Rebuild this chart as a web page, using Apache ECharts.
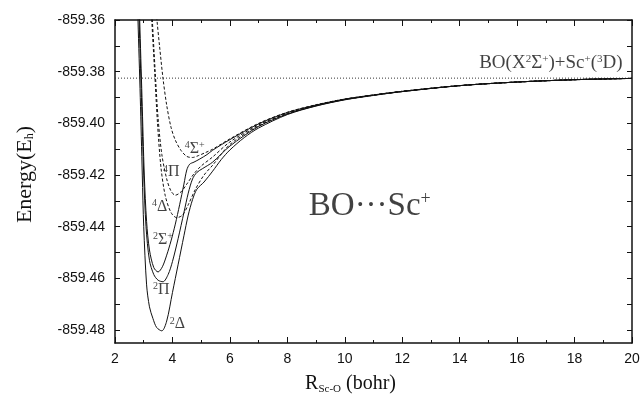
<!DOCTYPE html>
<html>
<head>
<meta charset="utf-8">
<script src="https://cdn.jsdelivr.net/npm/echarts@6/dist/echarts.min.js"></script>
<style>
html,body{margin:0;padding:0;background:#fff}
#main{width:643px;height:400px}
</style>
</head>
<body>
<div id="main"></div>
<script>
// BO...Sc+ potential energy curves, R in bohr, E in hartree
var asymE = -859.3825

var rS4 = [3.42, 3.46, 3.55, 3.67, 3.8, 3.95, 4.1, 4.3, 4.5, 4.7, 4.9, 5.15, 5.4, 6, 7, 8, 9, 10, 11, 12, 14, 16, 18, 20]
var eS4 = [-859.355, -859.36, -859.370, -859.3825, -859.393, -859.4015, -859.4065, -859.4105, -859.4128, -859.4132, -859.4125, -859.4113, -859.4100, -859.4060, -859.4000, -859.3957, -859.3928, -859.3906, -859.3890, -859.3876, -859.3854, -859.3840, -859.3831, -859.3826]

var rP4 = [3.26, 3.3, 3.4, 3.5, 3.63, 3.8, 3.95, 4.1, 4.3, 4.5, 4.75, 5.0, 5.4, 6, 7, 8, 9, 10, 11, 12, 14, 16, 18, 20]
var eP4 = [-859.35, -859.36, -859.38, -859.398, -859.412, -859.4215, -859.4262, -859.4278, -859.4265, -859.4235, -859.4195, -859.4165, -859.4130, -859.4072, -859.4006, -859.3961, -859.3930, -859.3907, -859.3891, -859.3876, -859.3854, -859.3840, -859.3831, -859.3826]

var rD4 = [3.24, 3.28, 3.38, 3.48, 3.6, 3.75, 3.95, 4.15, 4.35, 4.55, 4.8, 5.1, 5.4, 6, 7, 8, 9, 10, 11, 12, 14, 16, 18, 20]
var eD4 = [-859.35, -859.36, -859.38, -859.40, -859.417, -859.428, -859.4345, -859.4365, -859.4355, -859.4315, -859.4255, -859.4200, -859.4162, -859.4082, -859.4010, -859.3963, -859.3931, -859.3908, -859.3891, -859.3877, -859.3854, -859.3840, -859.3831, -859.3826]

var rS2 = [2.8, 2.86, 2.94, 3.02, 3.1, 3.2, 3.35, 3.5, 3.65, 3.8, 3.95, 4.1, 4.25, 4.4, 4.5, 4.6, 4.75, 4.95, 5.2, 5.4, 6, 7, 8, 9, 10, 11, 12, 14, 16, 18, 20]
var eS2 = [-859.335, -859.36, -859.39, -859.42, -859.438, -859.449, -859.4558, -859.4575, -859.4555, -859.451, -859.4455, -859.439, -859.4315, -859.4235, -859.418, -859.4158, -859.4150, -859.4138, -859.4121, -859.4104, -859.4063, -859.4002, -859.3958, -859.3929, -859.3906, -859.3890, -859.3876, -859.3854, -859.3840, -859.3831, -859.3826]

var rP2 = [2.78, 2.84, 2.92, 3.0, 3.08, 3.2, 3.35, 3.5, 3.67, 3.85, 4.0, 4.2, 4.4, 4.55, 4.7, 4.85, 5.05, 5.4, 6, 7, 8, 9, 10, 11, 12, 14, 16, 18, 20]
var eP2 = [-859.335, -859.36, -859.39, -859.42, -859.44, -859.453, -859.4585, -859.4607, -859.4613, -859.4585, -859.4535, -859.4445, -859.4345, -859.427, -859.4215, -859.419, -859.4175, -859.4150, -859.4088, -859.4012, -859.3964, -859.3932, -859.3908, -859.3891, -859.3877, -859.3854, -859.3840, -859.3831, -859.3826]

var rD2 = [2.74, 2.8, 2.88, 2.95, 3.0, 3.1, 3.2, 3.32, 3.45, 3.63, 3.8, 4.0, 4.2, 4.4, 4.55, 4.7, 4.85, 5.1, 5.4, 5.7, 6, 6.5, 7, 8, 9, 10, 11, 12, 14, 16, 18, 20]
var eD2 = [-859.335, -859.36, -859.39, -859.42, -859.44, -859.4625, -859.471, -859.4755, -859.479, -859.4803, -859.4765, -859.4655, -859.4545, -859.4435, -859.4355, -859.4295, -859.4255, -859.4227, -859.4185, -859.4140, -859.4103, -859.4055, -859.4018, -859.3966, -859.3933, -859.3909, -859.3892, -859.3877, -859.3854, -859.3840, -859.3831, -859.3826]

// state labels
var labR = [4.43, 3.67, 3.29, 3.32, 3.32, 3.91]
var labE = [-859.4097, -859.4188, -859.4321, -859.445, -859.4644, -859.4777]
var labText = ['{sup|4}Σ{sup|+}', '{sup|4}Π', '{sup|4}Δ', '{sup|2}Σ{sup|+}', '{sup|2}Π', '{sup|2}Δ']

var xTicks = [2, 4, 6, 8, 10, 12, 14, 16, 18, 20]
var yLabels = [-859.48, -859.46, -859.44, -859.42, -859.40, -859.38, -859.36]
var yTicks = [-859.48, -859.47, -859.46, -859.45, -859.44, -859.43, -859.42, -859.41, -859.40, -859.39, -859.38, -859.37, -859.36]

function zip(r, e){
    var out = []
    r.forEach(function(v, i){ out.push([v, e[i]]) })
    return out
}

var serif = 'Liberation Serif'
var sans = 'Liberation Sans'

function curve(name, r, e, dashed){
    return {
        name: name,
        type: 'line',
        data: zip(r, e),
        smooth: 0.3,
        showSymbol: false,
        symbol: 'none',
        clip: true,
        silent: true,
        lineStyle: {color: '#111', width: 1, type: dashed ? [3, 2] : 'solid'}
    }
}

var labData = labR.map(function(v, i){
    return {
        value: [v, labE[i]],
        label: {show: true, position: 'right', distance: 0, formatter: labText[i]}
    }
})
labData.push({
    value: [19.67, -859.3767],
    label: {show: true, position: 'left', distance: 0, fontSize: 19,
        formatter: 'BO(X{sup2|2}Σ{sup2|+})+Sc{sup2|+}({sup2|3}D)'}
})
labData.push({
    value: [10.87, -859.4321],
    label: {show: true, position: 'inside', fontSize: 33,
        formatter: 'BO···Sc{sup3|+}'}
})

var myChart = echarts.init(document.getElementById('main'))
myChart.setOption({
    backgroundColor: '#fff',
    animation: false,
    grid: {left: 115, right: 11, top: 20, bottom: 50, containLabel: false},
    xAxis: [
        {
            type: 'value', min: 2, max: 20, interval: 2,
            name: 'R{sub|Sc-O} (bohr)',
            nameLocation: 'middle', nameGap: 29,
            nameTextStyle: {fontFamily: serif, fontSize: 20, color: '#111', padding: [0, 46, 0, 0],
                rich: {sub: {fontFamily: serif, fontSize: 11, verticalAlign: 'bottom', padding: [12, 0, 0, 0]}}},
            axisLine: {lineStyle: {color: '#111', width: 1.5}},
            axisTick: {inside: true, length: 6, lineStyle: {color: '#111'}},
            minorTick: {show: true, splitNumber: 2, length: 3, lineStyle: {color: '#111'}},
            axisLabel: {fontFamily: sans, fontSize: 14, color: '#111', margin: 9,
                customValues: xTicks},
            splitLine: {show: false}
        },
        {
            type: 'value', min: 2, max: 20, interval: 2, position: 'top',
            axisLine: {lineStyle: {color: '#111', width: 1.5}},
            axisTick: {inside: true, length: 6, lineStyle: {color: '#111'}},
            minorTick: {show: true, splitNumber: 2, length: 3, lineStyle: {color: '#111'}},
            axisLabel: {show: false},
            splitLine: {show: false}
        }
    ],
    yAxis: [
        {
            type: 'value', min: -859.485, max: -859.36,
            name: 'Energy(E{sub|h})',
            nameLocation: 'middle', nameGap: 79,
            nameTextStyle: {fontFamily: serif, fontSize: 22, color: '#111', padding: [0, 0, 0, 14],
                rich: {sub: {fontFamily: serif, fontSize: 12, verticalAlign: 'bottom', padding: [10, 0, 0, 0]}}},
            axisLine: {lineStyle: {color: '#111', width: 1.5}},
            axisTick: {inside: true, length: 5, lineStyle: {color: '#111'}, customValues: yTicks},
            axisLabel: {fontFamily: sans, fontSize: 14, color: '#111', margin: 10,
                customValues: yLabels,
                formatter: function(v){ return v.toFixed(2) }},
            splitLine: {show: false}
        },
        {
            type: 'value', min: -859.485, max: -859.36, position: 'right',
            axisLine: {lineStyle: {color: '#111', width: 1.5}},
            axisTick: {inside: true, length: 5, lineStyle: {color: '#111'}, customValues: yTicks},
            axisLabel: {show: false},
            splitLine: {show: false}
        }
    ],
    series: [
        {
            name: 'asymptote', type: 'line', silent: true, symbol: 'none',
            data: [[2, asymE], [20, asymE]],
            lineStyle: {color: '#333', width: 1, type: [1, 2]}
        },
        curve('4S+', rS4, eS4, true),
        curve('4P', rP4, eP4, true),
        curve('4D', rD4, eD4, true),
        curve('2S+', rS2, eS2, false),
        curve('2P', rP2, eP2, false),
        curve('2D', rD2, eD2, false),
        {
            name: 'labels', type: 'scatter', symbolSize: 0, silent: true,
            data: labData,
            label: {
                fontFamily: serif, fontSize: 16, color: '#111',
                rich: {
                    sup: {fontFamily: serif, fontSize: 10, verticalAlign: 'top', lineHeight: 10},
                    sup2: {fontFamily: serif, fontSize: 11, verticalAlign: 'top', lineHeight: 10},
                    sup3: {fontFamily: serif, fontSize: 18, verticalAlign: 'top', lineHeight: 16}
                }
            }
        }
    ]
})
</script>
</body>
</html>
